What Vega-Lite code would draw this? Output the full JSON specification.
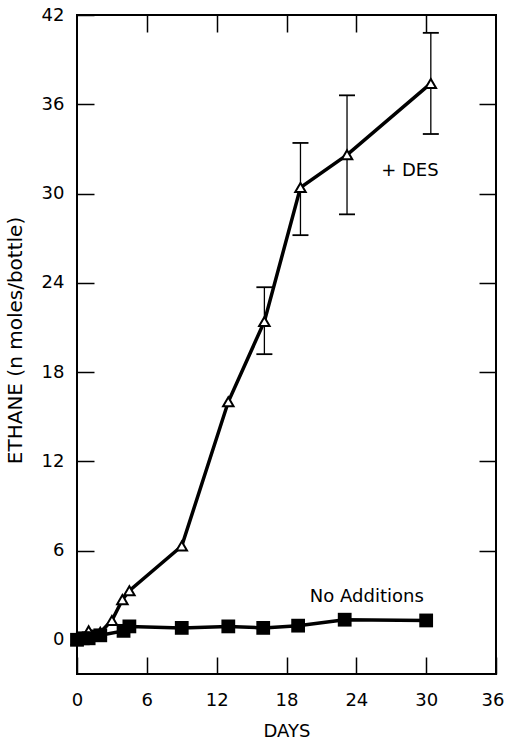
{
  "$schema": "https://vega.github.io/schema/vega-lite/v6.json",
  "width": 419,
  "height": 659,
  "autosize": "none",
  "padding": {"left": 77, "top": 15, "right": 9, "bottom": 70},
  "background": "white",
  "config": {
    "view": {"stroke": "black", "strokeWidth": 2},
    "font": "DejaVu Sans",
    "axis": {
      "grid": false,
      "domain": false,
      "tickColor": "black",
      "tickWidth": 1.5,
      "tickSize": -17,
      "labelFont": "DejaVu Sans",
      "labelFontSize": 18,
      "labelColor": "black",
      "titleFont": "DejaVu Sans",
      "titleFontSize": 18,
      "titleFontWeight": "normal",
      "titleColor": "black"
    }
  },
  "datasets": {
    "des": [
      {"day": 0, "val": 0},
      {"day": 1, "val": 0.6},
      {"day": 2, "val": 0.5},
      {"day": 3, "val": 1.3},
      {"day": 3.9, "val": 2.7},
      {"day": 4.5, "val": 3.3},
      {"day": 9, "val": 6.3},
      {"day": 13, "val": 16},
      {"day": 16.1, "val": 21.4},
      {"day": 19.2, "val": 30.4},
      {"day": 23.2, "val": 32.6},
      {"day": 30.4, "val": 37.4}
    ],
    "noadd": [
      {"day": 0, "val": 0},
      {"day": 0.5, "val": 0.1},
      {"day": 1, "val": 0.1},
      {"day": 2, "val": 0.3},
      {"day": 4, "val": 0.6},
      {"day": 4.5, "val": 0.9},
      {"day": 9, "val": 0.8},
      {"day": 13, "val": 0.9},
      {"day": 16, "val": 0.8},
      {"day": 19, "val": 0.95},
      {"day": 23, "val": 1.35},
      {"day": 30, "val": 1.3}
    ],
    "err": [
      {"day": 16.1, "lo": 19.2, "hi": 23.7},
      {"day": 19.2, "lo": 27.2, "hi": 33.4},
      {"day": 23.2, "lo": 28.6, "hi": 36.6},
      {"day": 30.4, "lo": 34.0, "hi": 40.8}
    ],
    "labels": [
      {"day": 28.6, "val": 31.5, "text": "+ DES"},
      {"day": 24.9, "val": 2.9, "text": "No Additions"}
    ]
  },
  "resolve": {"axis": {"x": "independent", "y": "independent"}},
  "layer": [
    {
      "data": {"name": "des"},
      "mark": {"type": "line", "color": "black", "strokeWidth": 3.5},
      "encoding": {
        "x": {"field": "day", "type": "quantitative", "scale": {"domain": [0, 36], "nice": false, "zero": false},
              "axis": {"orient": "bottom", "values": [0, 6, 12, 18, 24, 30, 36], "title": "DAYS", "labelPadding": 34, "titlePadding": 13, "labelFlush": false,
                       "labelAlign": {"condition": {"test": "datum.value == 36", "value": "right"}, "value": "center"},
                       "labelOffset": {"condition": {"test": "datum.value == 36", "value": 8}, "value": 0}}},
        "y": {"field": "val", "type": "quantitative", "scale": {"domain": [-2.3, 42], "nice": false, "zero": false},
              "axis": {"orient": "left", "values": [0, 6, 12, 18, 24, 30, 36, 42], "title": "ETHANE (n moles/bottle)", "labelPadding": 30, "labelFlush": false,
                       "titleFontSize": 20, "titleX": -62, "titleY": 325, "titleAngle": -90, "titleAlign": "center", "titleBaseline": "middle"}}
      }
    },
    {
      "data": {"name": "noadd"},
      "mark": {"type": "line", "color": "black", "strokeWidth": 3.5},
      "encoding": {
        "x": {"field": "day", "type": "quantitative", "axis": {"orient": "top", "values": [6, 12, 18, 24, 30], "labels": false, "title": null}},
        "y": {"field": "val", "type": "quantitative", "axis": {"orient": "right", "values": [6, 12, 18, 24, 30, 36], "labels": false, "title": null}}
      }
    },
    {
      "data": {"name": "err"},
      "mark": {"type": "rule", "color": "black", "strokeWidth": 1.3},
      "encoding": {
        "x": {"field": "day", "type": "quantitative", "axis": null},
        "y": {"field": "lo", "type": "quantitative", "axis": null},
        "y2": {"field": "hi"}
      }
    },
    {
      "data": {"name": "err"},
      "mark": {"type": "tick", "orient": "horizontal", "color": "black", "size": 16, "thickness": 1.8, "opacity": 1},
      "encoding": {
        "x": {"field": "day", "type": "quantitative", "axis": null},
        "y": {"field": "lo", "type": "quantitative", "axis": null}
      }
    },
    {
      "data": {"name": "err"},
      "mark": {"type": "tick", "orient": "horizontal", "color": "black", "size": 16, "thickness": 1.8, "opacity": 1},
      "encoding": {
        "x": {"field": "day", "type": "quantitative", "axis": null},
        "y": {"field": "hi", "type": "quantitative", "axis": null}
      }
    },
    {
      "data": {"name": "des"},
      "mark": {"type": "point", "shape": "triangle-up", "filled": true, "fill": "white", "stroke": "black", "strokeWidth": 2, "size": 110, "opacity": 1},
      "encoding": {
        "x": {"field": "day", "type": "quantitative", "axis": null},
        "y": {"field": "val", "type": "quantitative", "axis": null}
      }
    },
    {
      "data": {"name": "noadd"},
      "mark": {"type": "square", "filled": true, "color": "black", "size": 190, "opacity": 1},
      "encoding": {
        "x": {"field": "day", "type": "quantitative", "axis": null},
        "y": {"field": "val", "type": "quantitative", "axis": null}
      }
    },
    {
      "data": {"name": "labels"},
      "mark": {"type": "text", "font": "DejaVu Sans", "fontSize": 18, "color": "black", "align": "center", "baseline": "middle"},
      "encoding": {
        "x": {"field": "day", "type": "quantitative", "axis": null},
        "y": {"field": "val", "type": "quantitative", "axis": null},
        "text": {"field": "text"}
      }
    }
  ]
}
